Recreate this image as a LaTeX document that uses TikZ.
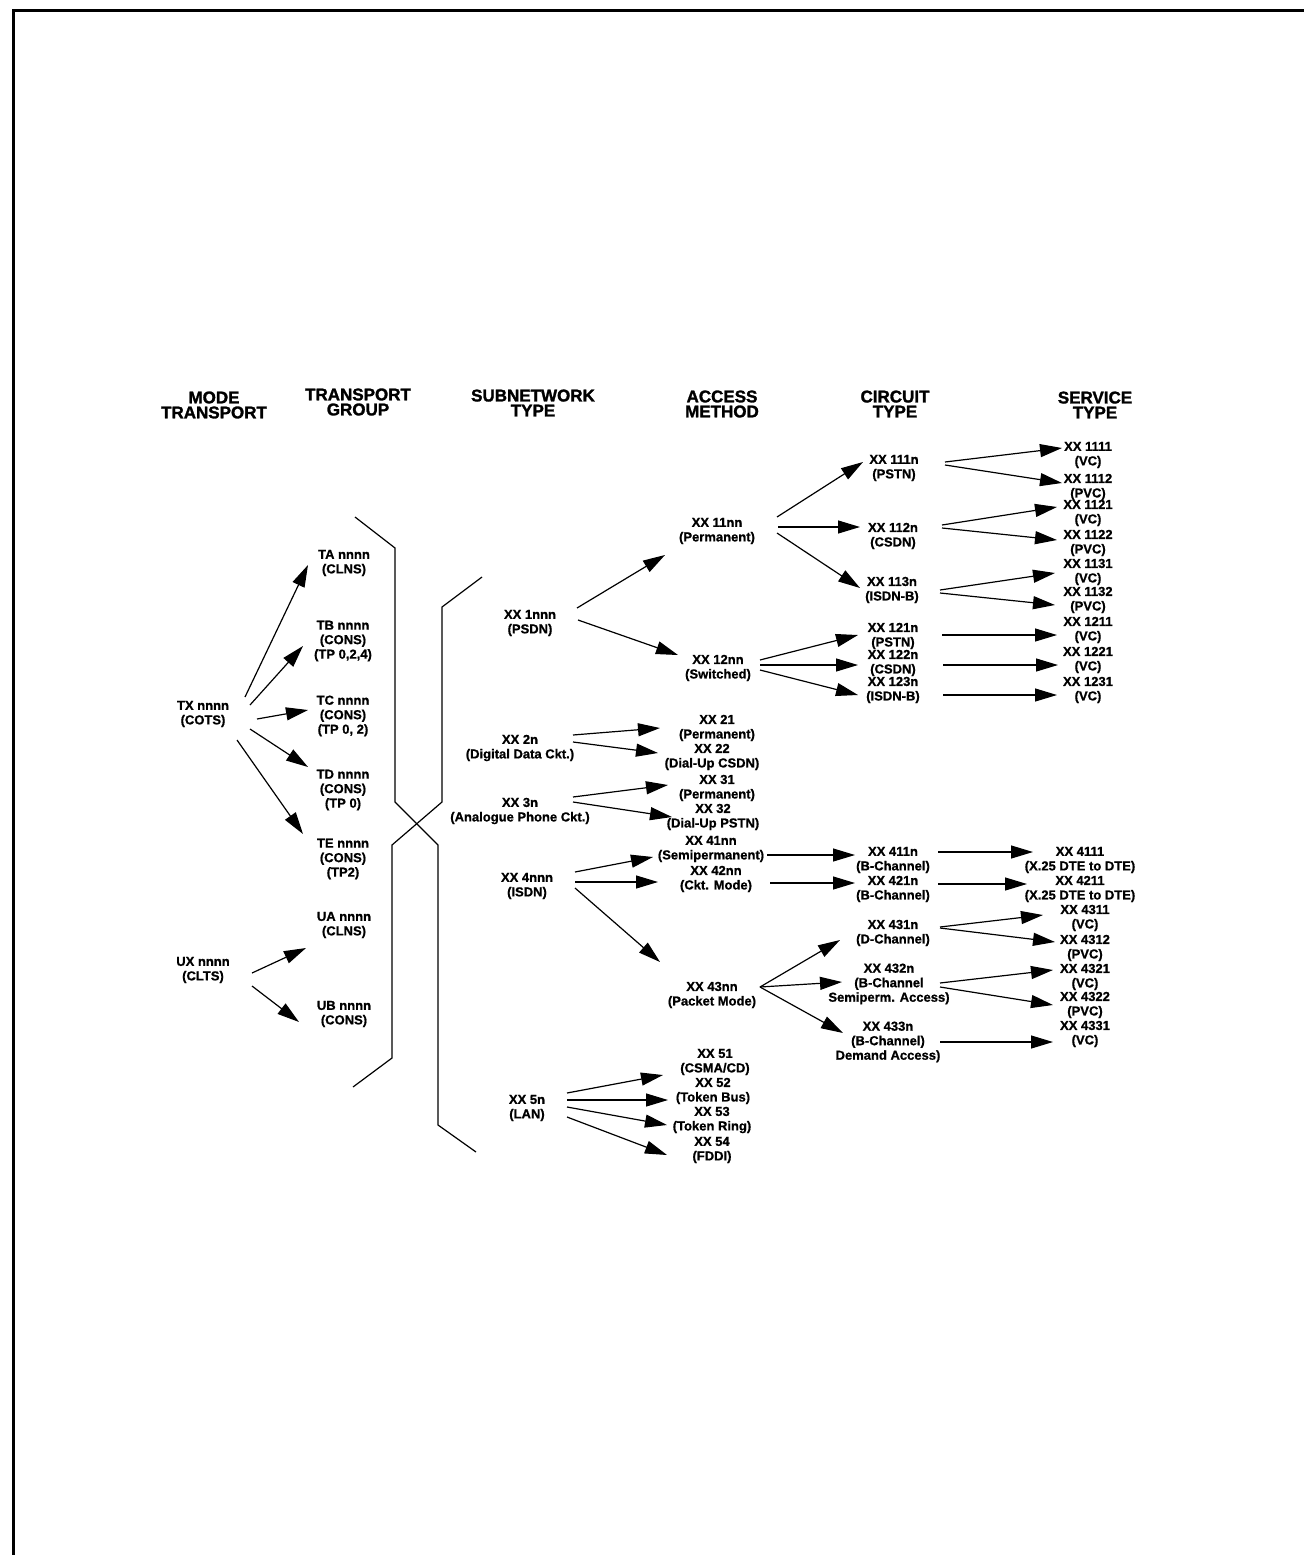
\documentclass[tikz,border=0pt]{standalone}
\usepackage{fontspec}
\setmainfont{Liberation Sans}
\newfontfamily\negra{Liberation Sans Bold}[FakeBold=0.9]
\newfontfamily\negrita{Liberation Sans Bold}[FakeBold=1.6]
\usetikzlibrary{arrows.meta}

\begin{document}
\begin{tikzpicture}[x=1pt, y=-1pt,
    etiq/.style={font=\fontsize{13}{14.5}\selectfont\negra, align=center, inner sep=0pt},
    titulo/.style={font=\fontsize{17}{15}\selectfont\negrita, align=center, inner sep=0pt},
    arr/.style={-{Triangle[length=22pt,width=13pt]}, line width=1.2pt},
    llave/.style={line width=1.2pt}]
    \useasboundingbox (0,0) rectangle (1304,1555);

    % Marco
    \draw[line width=3pt] (13,1555) -- (13,11) -- (1304,11);

    % Encabezados
    \node[titulo] (hmode)    at (214,405)  {MODE\\TRANSPORT};
    \node[titulo] (hgroup)   at (358,402)  {TRANSPORT\\GROUP};
    \node[titulo] (hsub)     at (533,403)  {SUBNETWORK\\TYPE};
    \node[titulo] (haccess)  at (722,404)  {ACCESS\\METHOD};
    \node[titulo] (hcircuit) at (895,404)  {CIRCUIT\\TYPE};
    \node[titulo] (hservice) at (1095,405) {SERVICE\\TYPE};

    % Modo de transporte
    \node[etiq] (tx) at (203,714) {TX nnnn\\(COTS)};
    \node[etiq] (ux) at (203,970) {UX nnnn\\(CLTS)};

    % Grupo de transporte
    \node[etiq] (ta) at (344,563)  {TA nnnn\\(CLNS)};
    \node[etiq] (tb) at (343,641)  {TB nnnn\\(CONS)\\(TP 0,2,4)};
    \node[etiq] (tc) at (343,716)  {TC nnnn\\(CONS)\\(TP 0, 2)};
    \node[etiq] (td) at (343,790)  {TD nnnn\\(CONS)\\(TP 0)};
    \node[etiq] (te) at (343,859)  {TE nnnn\\(CONS)\\(TP2)};
    \node[etiq] (ua) at (344,925)  {UA nnnn\\(CLNS)};
    \node[etiq] (ub) at (344,1014) {UB nnnn\\(CONS)};

    % Tipo de subred
    \node[etiq] (s1) at (530,623)  {XX 1nnn\\(PSDN)};
    \node[etiq] (s2) at (520,748)  {XX 2n\\(Digital Data Ckt.)};
    \node[etiq] (s3) at (520,811)  {XX 3n\\(Analogue Phone Ckt.)};
    \node[etiq] (s4) at (527,886)  {XX 4nnn\\(ISDN)};
    \node[etiq] (s5) at (527,1108) {XX 5n\\(LAN)};

    % Metodo de acceso
    \node[etiq] (a11) at (717,531)  {XX 11nn\\(Permanent)};
    \node[etiq] (a12) at (718,668)  {XX 12nn\\(Switched)};
    \node[etiq] (a21) at (717,728)  {XX 21\\(Permanent)};
    \node[etiq] (a22) at (712,757)  {XX 22\\(Dial-Up CSDN)};
    \node[etiq] (a31) at (717,788)  {XX 31\\(Permanent)};
    \node[etiq] (a32) at (713,817)  {XX 32\\(Dial-Up PSTN)};
    \node[etiq] (a41) at (711,849)  {XX 41nn\\(Semipermanent)};
    \node[etiq] (a42) at (716,879)  {XX 42nn\\(Ckt. Mode)};
    \node[etiq] (a43) at (712,995)  {XX 43nn\\(Packet Mode)};
    \node[etiq] (a51) at (715,1062) {XX 51\\(CSMA/CD)};
    \node[etiq] (a52) at (713,1091) {XX 52\\(Token Bus)};
    \node[etiq] (a53) at (712,1120) {XX 53\\(Token Ring)};
    \node[etiq] (a54) at (712,1150) {XX 54\\(FDDI)};

    % Tipo de circuito
    \node[etiq] (c111) at (894,468)  {XX 111n\\(PSTN)};
    \node[etiq] (c112) at (893,536)  {XX 112n\\(CSDN)};
    \node[etiq] (c113) at (892,590)  {XX 113n\\(ISDN-B)};
    \node[etiq] (c121) at (893,636)  {XX 121n\\(PSTN)};
    \node[etiq] (c122) at (893,663)  {XX 122n\\(CSDN)};
    \node[etiq] (c123) at (893,690)  {XX 123n\\(ISDN-B)};
    \node[etiq] (c411) at (893,860)  {XX 411n\\(B-Channel)};
    \node[etiq] (c421) at (893,889)  {XX 421n\\(B-Channel)};
    \node[etiq] (c431) at (893,933)  {XX 431n\\(D-Channel)};
    \node[etiq] (c432) at (889,984)  {XX 432n\\(B-Channel\\Semiperm. Access)};
    \node[etiq] (c433) at (888,1042) {XX 433n\\(B-Channel)\\Demand Access)};

    % Tipo de servicio
    \node[etiq] (v1111) at (1088,455) {XX 1111\\(VC)};
    \node[etiq] (v1112) at (1088,487) {XX 1112\\(PVC)};
    \node[etiq] (v1121) at (1088,513) {XX 1121\\(VC)};
    \node[etiq] (v1122) at (1088,543) {XX 1122\\(PVC)};
    \node[etiq] (v1131) at (1088,572) {XX 1131\\(VC)};
    \node[etiq] (v1132) at (1088,600) {XX 1132\\(PVC)};
    \node[etiq] (v1211) at (1088,630) {XX 1211\\(VC)};
    \node[etiq] (v1221) at (1088,660) {XX 1221\\(VC)};
    \node[etiq] (v1231) at (1088,690) {XX 1231\\(VC)};
    \node[etiq] (v4111) at (1080,860) {XX 4111\\(X.25 DTE to DTE)};
    \node[etiq] (v4211) at (1080,889) {XX 4211\\(X.25 DTE to DTE)};
    \node[etiq] (v4311) at (1085,918) {XX 4311\\(VC)};
    \node[etiq] (v4312) at (1085,948) {XX 4312\\(PVC)};
    \node[etiq] (v4321) at (1085,977) {XX 4321\\(VC)};
    \node[etiq] (v4322) at (1085,1005) {XX 4322\\(PVC)};
    \node[etiq] (v4331) at (1085,1034) {XX 4331\\(VC)};

    % Llaves cruzadas
    \draw[llave] (355,517) -- (395,548) -- (395,802) -- (438,845) -- (438,1125) -- (476,1152);
    \draw[llave] (482,577) -- (442,607) -- (442,802) -- (392,845) -- (392,1058) -- (353,1087);

    % Flechas: modo -> grupo
    \draw[arr] ([shift={(42,-17)}]tx.center) -- ([shift={(-36,2)}]ta.center);
    \draw[arr] ([shift={(47,-9)}]tx.center) -- ([shift={(-40,5)}]tb.center);
    \draw[arr] ([shift={(54,5)}]tx.center) -- ([shift={(-35,-6)}]tc.center);
    \draw[arr] ([shift={(47,15)}]tx.center) -- ([shift={(-35,-23)}]td.center);
    \draw[arr] ([shift={(34,26)}]tx.center) -- ([shift={(-40,-25)}]te.center);
    \draw[arr] ([shift={(49,3)}]ux.center) -- ([shift={(-38,23)}]ua.center);
    \draw[arr] ([shift={(49,16)}]ux.center) -- ([shift={(-45,8)}]ub.center);

    % Flechas: subred -> acceso
    \draw[arr] ([shift={(47,-15)}]s1.center) -- ([shift={(-52,24)}]a11.center);
    \draw[arr] ([shift={(48,-3)}]s1.center) -- ([shift={(-40,-13)}]a12.center);
    \draw[arr] ([shift={(53,-13)}]s2.center) -- ([shift={(-57,0)}]a21.center);
    \draw[arr] ([shift={(53,-6)}]s2.center) -- ([shift={(-54,-4)}]a22.center);
    \draw[arr] ([shift={(53,-14)}]s3.center) -- ([shift={(-49,-3)}]a31.center);
    \draw[arr] ([shift={(53,-9)}]s3.center) -- ([shift={(-41,0)}]a32.center);
    \draw[arr] ([shift={(48,-14)}]s4.center) -- ([shift={(-58,8)}]a41.center);
    \draw[arr] ([shift={(48,-4)}]s4.center) -- ([shift={(-58,3)}]a42.center);
    \draw[arr] ([shift={(48,2)}]s4.center) -- ([shift={(-52,-33)}]a43.center);
    \draw[arr] ([shift={(40,-15)}]s5.center) -- ([shift={(-52,13)}]a51.center);
    \draw[arr] ([shift={(40,-8)}]s5.center) -- ([shift={(-45,9)}]a52.center);
    \draw[arr] ([shift={(40,-1)}]s5.center) -- ([shift={(-45,5)}]a53.center);
    \draw[arr] ([shift={(40,9)}]s5.center) -- ([shift={(-45,5)}]a54.center);

    % Flechas: acceso -> circuito
    \draw[arr] ([shift={(60,-14)}]a11.center) -- ([shift={(-31,-6)}]c111.center);
    \draw[arr] ([shift={(61,-4)}]a11.center) -- ([shift={(-33,-9)}]c112.center);
    \draw[arr] ([shift={(60,2)}]a11.center) -- ([shift={(-32,-2)}]c113.center);
    \draw[arr] ([shift={(42,-8)}]a12.center) -- ([shift={(-35,-1)}]c121.center);
    \draw[arr] ([shift={(42,-3)}]a12.center) -- ([shift={(-35,2)}]c122.center);
    \draw[arr] ([shift={(42,2)}]a12.center) -- ([shift={(-35,5)}]c123.center);
    \draw[arr] ([shift={(56,6)}]a41.center) -- ([shift={(-38,-5)}]c411.center);
    \draw[arr] ([shift={(54,4)}]a42.center) -- ([shift={(-38,-6)}]c421.center);
    \draw[arr] ([shift={(48,-8)}]a43.center) -- ([shift={(-53,7)}]c431.center);
    \draw[arr] ([shift={(48,-8)}]a43.center) -- ([shift={(-47,-2)}]c432.center);
    \draw[arr] ([shift={(48,-8)}]a43.center) -- ([shift={(-45,-9)}]c433.center);

    % Flechas: circuito -> servicio
    \draw[arr] ([shift={(51,-6)}]c111.center) -- ([shift={(-26,-7)}]v1111.center);
    \draw[arr] ([shift={(51,-3)}]c111.center) -- ([shift={(-26,-4)}]v1112.center);
    \draw[arr] ([shift={(49,-11)}]c112.center) -- ([shift={(-31,-6)}]v1121.center);
    \draw[arr] ([shift={(49,-8)}]c112.center) -- ([shift={(-31,-3)}]v1122.center);
    \draw[arr] ([shift={(48,0)}]c113.center) -- ([shift={(-33,1)}]v1131.center);
    \draw[arr] ([shift={(48,3)}]c113.center) -- ([shift={(-33,5)}]v1132.center);
    \draw[arr] ([shift={(49,-1)}]c121.center) -- ([shift={(-31,5)}]v1211.center);
    \draw[arr] ([shift={(50,2)}]c122.center) -- ([shift={(-30,5)}]v1221.center);
    \draw[arr] ([shift={(50,5)}]c123.center) -- ([shift={(-31,5)}]v1231.center);
    \draw[arr] ([shift={(45,-8)}]c411.center) -- ([shift={(-47,-8)}]v4111.center);
    \draw[arr] ([shift={(45,-5)}]c421.center) -- ([shift={(-53,-5)}]v4211.center);
    \draw[arr] ([shift={(47,-6)}]c431.center) -- ([shift={(-42,-3)}]v4311.center);
    \draw[arr] ([shift={(47,-5)}]c431.center) -- ([shift={(-30,-6)}]v4312.center);
    \draw[arr] ([shift={(51,-1)}]c432.center) -- ([shift={(-32,-7)}]v4321.center);
    \draw[arr] ([shift={(51,3)}]c432.center) -- ([shift={(-32,0)}]v4322.center);
    \draw[arr] ([shift={(52,0)}]c433.center) -- ([shift={(-32,8)}]v4331.center);
\end{tikzpicture}
\end{document}
